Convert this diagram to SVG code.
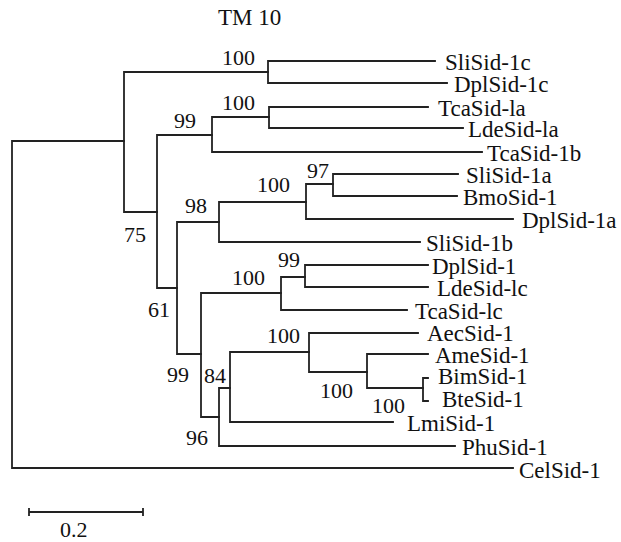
<svg xmlns="http://www.w3.org/2000/svg" width="621" height="542" viewBox="0 0 621 542">
<style>
.c{fill:none;stroke:#222;stroke-width:1.8;stroke-linecap:square}
.l{font-family:"Liberation Serif","Times New Roman",serif;font-size:23px;fill:#111}
.b{font-family:"Liberation Serif","Times New Roman",serif;font-size:22px;fill:#111}
</style>
<rect width="621" height="542" fill="#fff"/>
<text class="l" x="218" y="25">TM 10</text>
<g id="connectors" class="c">
<path d="M12,141V468M12,141H124M12,468H513"/>
<path d="M124,72V212M124,72H268M124,212H157"/>
<path d="M268,61V83M268,61H435M268,83H447"/>
<path d="M157,135V288M157,135H212M157,288H177"/>
<path d="M212,117V152M212,117H269M212,152H482"/>
<path d="M269,107V128M269,107H428M269,128H463"/>
<path d="M177,222V354M177,222H219M177,354H201"/>
<path d="M219,202V242M219,202H306M219,242H420"/>
<path d="M306,184V219M306,184H333M306,219H513"/>
<path d="M333,174V196M333,174H458M333,196H457"/>
<path d="M201,293V417M201,293H281M201,417H219"/>
<path d="M281,277V310M281,277H305M281,310H407"/>
<path d="M305,265V287M305,265H428M305,287H428"/>
<path d="M219,388V446M219,388H230M219,446H455"/>
<path d="M230,352V422M230,352H309M230,422H393"/>
<path d="M309,333V372M309,333H418M309,372H367"/>
<path d="M367,354V388M367,354H428M367,388H423"/>
<path d="M428,378H423V401H428"/>
</g>
<g id="bootstrap" class="b">
<text x="222" y="65">100</text>
<text x="222" y="110">100</text>
<text x="174" y="128">99</text>
<text x="307" y="178">97</text>
<text x="257" y="192">100</text>
<text x="185" y="213">98</text>
<text x="124" y="242">75</text>
<text x="278" y="267">99</text>
<text x="232" y="285">100</text>
<text x="148" y="317">61</text>
<text x="267" y="343">100</text>
<text x="167" y="382">99</text>
<text x="204" y="383">84</text>
<text x="320" y="398">100</text>
<text x="372" y="413">100</text>
<text x="186" y="445">96</text>
</g>
<g id="n-SliSid-1c"><text class="l" x="445" y="70">SliSid-1c</text></g>
<g id="n-DplSid-1c"><text class="l" x="454" y="92">DplSid-1c</text></g>
<g id="n-TcaSid-la"><text class="l" x="438" y="116">TcaSid-la</text></g>
<g id="n-LdeSid-la"><text class="l" x="468" y="137">LdeSid-la</text></g>
<g id="n-TcaSid-1b"><text class="l" x="487" y="161">TcaSid-1b</text></g>
<g id="n-SliSid-1a"><text class="l" x="466" y="183">SliSid-1a</text></g>
<g id="n-BmoSid-1"><text class="l" x="463" y="205">BmoSid-1</text></g>
<g id="n-DplSid-1a"><text class="l" x="522" y="228">DplSid-1a</text></g>
<g id="n-SliSid-1b"><text class="l" x="426" y="251">SliSid-1b</text></g>
<g id="n-DplSid-1"><text class="l" x="432" y="274">DplSid-1</text></g>
<g id="n-LdeSid-lc"><text class="l" x="437" y="296">LdeSid-lc</text></g>
<g id="n-TcaSid-lc"><text class="l" x="415" y="319">TcaSid-lc</text></g>
<g id="n-AecSid-1"><text class="l" x="427" y="341">AecSid-1</text></g>
<g id="n-AmeSid-1"><text class="l" x="435" y="363">AmeSid-1</text></g>
<g id="n-BimSid-1"><text class="l" x="438" y="384">BimSid-1</text></g>
<g id="n-BteSid-1"><text class="l" x="442" y="407">BteSid-1</text></g>
<g id="n-LmiSid-1"><text class="l" x="407" y="431">LmiSid-1</text></g>
<g id="n-PhuSid-1"><text class="l" x="462" y="455">PhuSid-1</text></g>
<g id="n-CelSid-1"><text class="l" x="519" y="478">CelSid-1</text></g>
<g id="scale">
<path class="c" d="M29,512H143M29,509V515M143,509V515"/>
<text class="b" x="60" y="537">0.2</text>
</g>
</svg>
